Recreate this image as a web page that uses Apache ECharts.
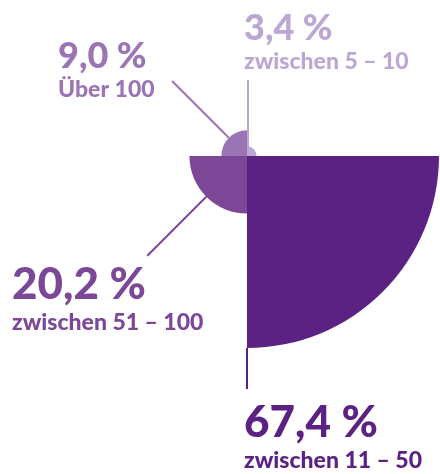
<!DOCTYPE html>
<html>
<head>
<meta charset="utf-8">
<script src="https://cdn.jsdelivr.net/npm/echarts@6/dist/echarts.min.js"></script>
<style>
  html, body { margin: 0; padding: 0; background: #fff; }
  #chart { width: 440px; height: 474px; }
</style>
</head>
<body>
<div id="chart"></div>
<script>
const categories = ["zwischen 5 – 10", "zwischen 11 – 50", "zwischen 51 – 100", "Über 100"];
const shares = [3.4, 67.4, 20.2, 9.0];
const colors = ["#bca6d4", "#5b2283", "#7b4796", "#9a74b4"];

const cx = 247, cy = 156, maxR = 192;
const maxShare = Math.max(...shares);
function sliceR(i) { return maxR * shares[i] / maxShare; }

// where each label block starts (left, top)
const labelPos = [[244, 9], [244, 400], [12, 262], [58, 37]];

function leader(i) {
  const r = sliceR(i);
  const d = Math.SQRT1_2;
  if (i === 0) return [[cx + 1, cy], [cx + 1, cy - 20], [cx + 1, 80]];
  if (i === 1) return [[cx, cy + r], [cx, cy + r + 10], [cx, 389]];
  if (i === 2) return [[cx - r * d, cy + r * d], [cx - (r + 10) * d, cy + (r + 10) * d], [cx - 141 * d, cy + 141 * d]];
  return [[cx - r * d, cy - r * d], [cx - (r + 10) * d, cy - (r + 10) * d], [cx - 106 * d, cy - 106 * d]];
}

const chart = echarts.init(document.getElementById('chart'));
chart.setOption({
  animation: false,
  series: [{
    type: 'pie',
    roseType: 'area',
    center: [cx, cy],
    radius: [0, maxR],
    startAngle: 90,
    clockwise: true,
    avoidLabelOverlap: false,
    emphasis: { disabled: true },
    data: shares.map((v, i) => ({
      value: v,
      name: categories[i],
      itemStyle: { color: colors[i] },
      label: { color: colors[i] },
      labelLine: { lineStyle: { color: colors[i] } }
    })),
    label: {
      show: true,
      position: 'outside',
      fontFamily: 'Lato',
      formatter: function (p) {
        const big = shares[p.dataIndex] > 15 ? 'vb' : 'vs';
        return '{' + big + '|' + p.value.toFixed(1).replace('.', ',') + ' %}\n{n|' + p.name + '}';
      },
      rich: {
        vb: { fontFamily: 'Lato', fontWeight: 900, fontSize: 44, lineHeight: 46 },
        vs: { fontFamily: 'Lato', fontWeight: 900, fontSize: 36, lineHeight: 38 },
        n: { fontFamily: 'Lato', fontWeight: 900, fontSize: 23, lineHeight: 30 }
      }
    },
    labelLine: { show: true, lineStyle: { width: 2 } },
    labelLayout: function (p) {
      const i = p.dataIndex;
      return {
        x: labelPos[i][0],
        y: labelPos[i][1],
        align: 'left',
        verticalAlign: 'top',
        labelLinePoints: leader(i)
      };
    }
  }]
});
</script>
</body>
</html>
